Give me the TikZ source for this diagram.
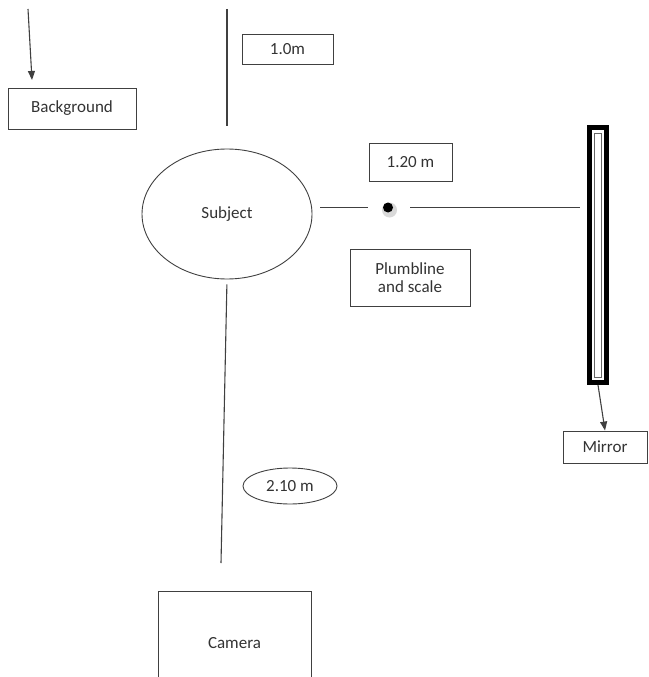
\documentclass[tikz,border=0pt]{standalone}
\usepackage{fontspec}
\setmainfont{Carlito}
\usetikzlibrary{arrows.meta}
\usetikzlibrary{shapes}

\begin{document}
\begin{tikzpicture}[x=1pt,y=-1pt,
    tag/.style={draw=black!75, line width=0.9pt, text=black!80,
      font=\fontsize{17}{20}\selectfont, inner sep=0pt, align=center},
    guide/.style={draw=black!75, line width=1.1pt},
    pointer/.style={guide, -{Triangle[length=9pt,width=7pt]}}]
        \useasboundingbox (0,0) rectangle (648,677);
        % labels
        \node[tag, minimum width=128, minimum height=41] (background) at (72, 108.5) {Background};
        \node[tag, minimum width=91, minimum height=30] (dist1) at (287.5, 49) {1.0m};
        \node[tag, minimum width=83, minimum height=38] (dist2) at (410.5, 162.5) {1.20 m};
        \node[tag, minimum width=120, minimum height=57] (plumbline) at (410, 277.5) {Plumbline\\[-2pt]and scale};
        \node[tag, minimum width=84, minimum height=32] (mirrorlabel) at (605, 447) {Mirror};
        \node[tag, minimum width=153, minimum height=104] (camera) at (234.5, 643) {Camera};
        \node[tag, ellipse, minimum width=170, minimum height=130] (subject) at (227, 214) {Subject};
        \node[tag, ellipse, minimum width=94, minimum height=36] (dist3) at (290, 486) {2.10 m};
        % mirror and plumbline
        \node[draw=black, line width=5pt, minimum width=17, minimum height=255, inner sep=0pt] (mirror) at (598, 255) {};
        \node[draw=black!60, line width=0.8pt, minimum width=7, minimum height=244, inner sep=0pt] (glass) at (598, 255) {};
        \fill[black!15] (389.5, 210) circle (7.5);
        \node[circle, fill=black, minimum size=10, inner sep=0pt] (plumb) at (388, 207.5) {};
        % free ends
        \coordinate (bgtail) at (28, 9);
        \coordinate (bghead) at (32, 80);
        \coordinate (ruletop) at (227, 9);
        \coordinate (rulebottom) at (227, 126);
        \coordinate (camtop) at (221, 563);
        % connectors
        \draw[pointer] (bgtail) -- (bghead);
        \draw[guide] (ruletop) -- (rulebottom);
        \draw[guide, shorten <=8pt, shorten >=15pt] (subject.east |- plumb) -- (plumb.west);
        \draw[guide, shorten <=17pt, shorten >=7pt] (plumb.east) -- (plumb.east -| mirror.west);
        \draw[guide, shorten <=5pt] (subject.south) -- (camtop);
        \draw[pointer] (mirror.south) -- (mirrorlabel.north);
      \end{tikzpicture}
\end{document}
